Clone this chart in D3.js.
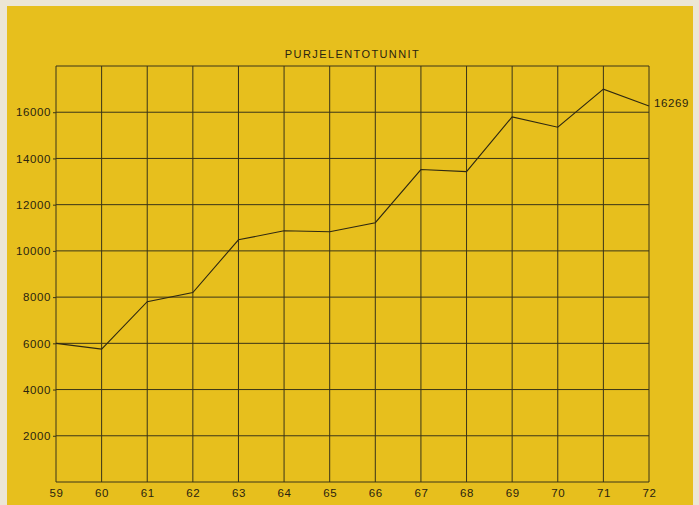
<!DOCTYPE html>
<html>
<head>
<meta charset="utf-8">
<script src="https://cdn.jsdelivr.net/npm/d3@7"></script>
<style>
  body { margin: 0; background: #ece6d6; }
  text { font-family: "Liberation Sans", Arial, sans-serif; fill: #2a2410; }
</style>
</head>
<body>
<div id="chart"></div>
<script>
// years (19xx) and flight hours
var years = [59, 60, 61, 62, 63, 64, 65, 66, 67, 68, 69, 70, 71, 72];
var hours = [6000, 5750, 7800, 8200, 10480, 10870, 10830, 11220, 13520, 13430, 15800, 15350, 17000, 16269];
var yTicks = [2000, 4000, 6000, 8000, 10000, 12000, 14000, 16000];
var title = "PURJELENTOTUNNIT";
var endLabel = "16269";

var W = 699, H = 505;
var margin = { top: 66, right: 50, bottom: 23, left: 56 },
    width = W - margin.left - margin.right,
    height = H - margin.top - margin.bottom;

var root = d3.select("#chart").append("svg")
    .attr("width", W)
    .attr("height", H);

// yellow paper
root.append("rect")
    .attr("x", 7).attr("y", 6)
    .attr("width", 686).attr("height", H - 6)
    .attr("fill", "#e7bf1d");

var svg = root.append("g")
    .attr("transform", "translate(" + margin.left + "," + margin.top + ")");

var x = d3.scaleLinear()
    .domain([59, 72])
    .range([0, width]);

var y = d3.scaleLinear()
    .domain([0, 18000])
    .range([height, 0]);

// grid
svg.append("g")
    .selectAll("line")
    .data(years)
    .enter()
    .append("line")
    .attr("x1", function (d) { return x(d); })
    .attr("x2", function (d) { return x(d); })
    .attr("y1", 0)
    .attr("y2", height)
    .attr("stroke", "#3a3418")
    .attr("stroke-width", 1);

svg.append("g")
    .selectAll("line")
    .data([0].concat(yTicks, [18000]))
    .enter()
    .append("line")
    .attr("x1", 0)
    .attr("x2", width)
    .attr("y1", function (d) { return y(d); })
    .attr("y2", function (d) { return y(d); })
    .attr("stroke", "#3a3418")
    .attr("stroke-width", 1);

// axes (labels only, grid drawn above)
var xAxis = svg.append("g")
    .attr("transform", "translate(0," + height + ")")
    .call(d3.axisBottom(x).tickValues(years).tickSize(0).tickPadding(7).tickFormat(d3.format("d")));
xAxis.select(".domain").remove();
xAxis.selectAll("text").attr("font-size", 11.5).attr("letter-spacing", 0.6).style("fill", "#2a2410");

var yAxis = svg.append("g")
    .call(d3.axisLeft(y).tickValues(yTicks).tickSize(3).tickPadding(2).tickFormat(d3.format("d")));
yAxis.select(".domain").remove();
yAxis.selectAll("line").attr("stroke", "#3a3418");
yAxis.selectAll("text").attr("font-size", 11.5).attr("letter-spacing", 0.6).style("fill", "#2a2410");

// data line
var line = d3.line()
    .x(function (d, i) { return x(years[i]); })
    .y(function (d) { return y(d); });

svg.append("path")
    .datum(hours)
    .attr("fill", "none")
    .attr("stroke", "#2e2812")
    .attr("stroke-width", 1.1)
    .attr("d", line);

// value at the end of the line
svg.append("text")
    .attr("x", x(72) + 5)
    .attr("y", y(hours[hours.length - 1]) - 3)
    .attr("dy", "0.35em")
    .attr("font-size", 11.5)
    .attr("letter-spacing", 0.6)
    .text(endLabel);

// title
svg.append("text")
    .attr("x", x(65.5))
    .attr("y", -8)
    .attr("text-anchor", "middle")
    .attr("font-size", 11)
    .attr("letter-spacing", 1.4)
    .text(title);
</script>
</body>
</html>
